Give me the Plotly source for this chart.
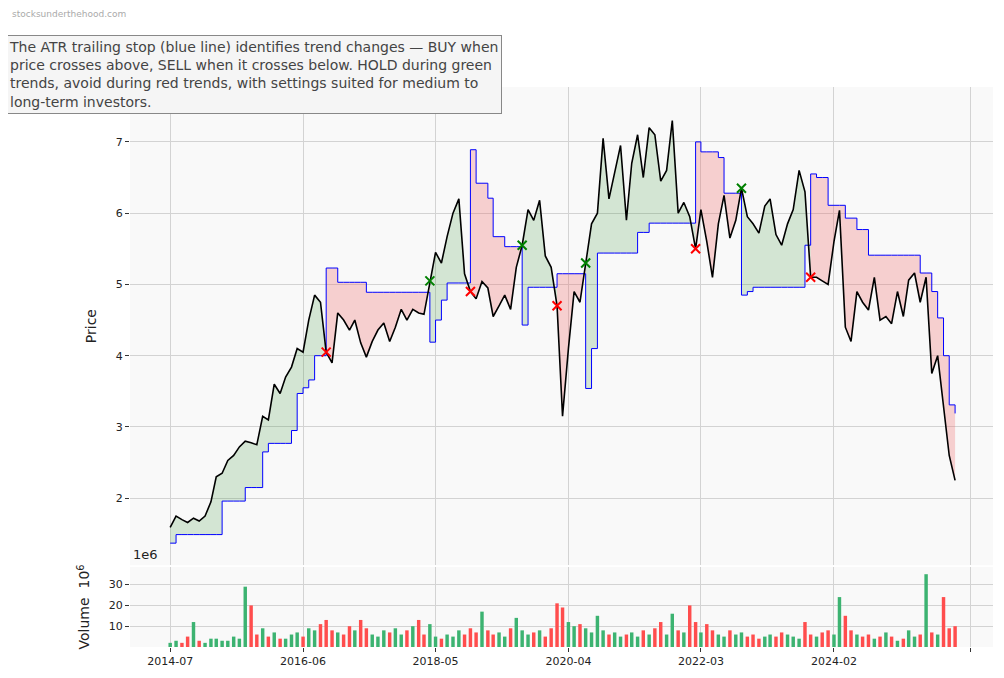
import pandas as pd
import plotly.graph_objects as go

# monthly closes, 2014-07 .. 2025-11
start = "2014-07-01"
price = [1.59, 1.75, 1.70, 1.66, 1.72, 1.68, 1.75, 1.95, 2.30, 2.35,
         2.53, 2.60, 2.72, 2.80, 2.78, 2.75, 3.15, 3.10, 3.60, 3.47,
         3.70, 3.84, 4.10, 4.05, 4.50, 4.85, 4.75, 4.05, 3.90, 4.60,
         4.50, 4.36, 4.50, 4.18, 3.98, 4.20, 4.36, 4.46, 4.20, 4.40,
         4.65, 4.50, 4.65, 4.60, 4.58, 5.05, 5.45, 5.30, 5.67, 6.00,
         6.20, 5.15, 4.90, 4.80, 5.04, 4.95, 4.55, 4.70, 4.85, 4.65,
         5.24, 5.55, 6.05, 5.90, 6.18, 5.40, 5.24, 4.70, 3.15, 4.10,
         4.90, 4.75, 5.30, 5.85, 6.00, 7.05, 6.20, 6.55, 6.95, 5.90,
         6.70, 7.10, 6.50, 7.20, 7.10, 6.45, 6.60, 7.30, 6.00, 6.15,
         5.95, 5.50, 6.05, 5.60, 5.10, 5.85, 6.25, 5.65, 5.90, 6.35,
         5.95, 5.85, 5.72, 6.10, 6.20, 5.70, 5.55, 5.85, 6.05, 6.60,
         6.30, 5.10, 5.10, 5.05, 5.00, 5.60, 6.04, 4.40, 4.20, 4.90,
         4.75, 4.64, 5.10, 4.50, 4.55, 4.45, 4.90, 4.55, 5.06, 5.16,
         4.75, 5.10, 3.75, 4.00, 3.30, 2.60, 2.25]

# ATR trailing stop
stop = [1.37, 1.49, 1.49, 1.49, 1.49, 1.49, 1.49, 1.49, 1.49, 1.96,
        1.96, 1.96, 1.96, 2.15, 2.15, 2.15, 2.65, 2.77, 2.77, 2.77,
        2.77, 2.95, 3.47, 3.55, 3.66, 4.00, 4.00, 5.23, 5.23, 5.03,
        5.03, 5.03, 5.03, 5.03, 4.89, 4.89, 4.89, 4.89, 4.89, 4.89,
        4.89, 4.89, 4.89, 4.89, 4.89, 4.19, 4.50, 4.78, 5.02, 5.02,
        5.02, 5.02, 6.89, 6.42, 6.42, 6.21, 5.67, 5.67, 5.53, 5.53,
        5.53, 4.43, 4.96, 4.96, 4.96, 4.96, 4.96, 5.15, 5.15, 5.15,
        5.15, 5.15, 3.54, 4.10, 5.44, 5.44, 5.44, 5.44, 5.44, 5.44,
        5.44, 5.73, 5.73, 5.86, 5.86, 5.86, 5.86, 5.86, 5.86, 5.86,
        5.86, 7.00, 6.86, 6.86, 6.86, 6.78, 6.28, 6.28, 6.28, 4.85,
        4.90, 4.96, 4.96, 4.96, 4.96, 4.96, 4.96, 4.96, 4.96, 4.96,
        5.55, 6.55, 6.50, 6.50, 6.11, 6.11, 6.11, 5.93, 5.93, 5.77,
        5.77, 5.41, 5.41, 5.41, 5.41, 5.41, 5.41, 5.41, 5.41, 5.41,
        5.16, 5.16, 4.90, 4.53, 4.00, 3.31, 3.19]

# volume in millions
volume = [2, 3, 2, 5, 12, 3, 2, 4, 4, 3,
          3, 5, 4, 29, 20, 6, 9, 5, 7, 4,
          4, 6, 7, 5, 9, 8, 11, 13, 8, 7,
          6, 10, 8, 13, 9, 6, 5, 8, 7, 9,
          6, 8, 10, 13, 6, 11, 5, 4, 6, 5,
          8, 6, 9, 7, 17, 8, 6, 7, 5, 9,
          14, 8, 6, 7, 8, 5, 9, 21, 19, 12,
          10, 11, 9, 7, 15, 8, 6, 7, 5, 6,
          7, 5, 8, 6, 9, 12, 6, 16, 8, 7,
          20, 12, 7, 11, 8, 6, 5, 8, 6, 7,
          5, 6, 4, 5, 6, 5, 7, 6, 5, 4,
          12, 6, 5, 7, 8, 6, 24, 15, 8, 6,
          5, 6, 4, 5, 7, 5, 3, 4, 8, 5,
          6, 35, 7, 6, 24, 9, 10]

dates = pd.date_range(start, periods=len(price), freq="MS")
df = pd.DataFrame({"date": dates, "price": price, "stop": stop, "volume": volume})
df["bull"] = df["price"] > df["stop"]

fig = go.Figure()

# shaded trend regions
runs = (df["bull"] != df["bull"].shift()).cumsum()
for _, seg in df.groupby(runs):
    i0, i1 = seg.index[0], min(seg.index[-1] + 1, len(df) - 1)
    part = df.loc[i0:i1]
    col = "rgba(60,150,60,0.2)" if seg["bull"].iloc[0] else "rgba(240,110,110,0.3)"
    fig.add_trace(go.Scatter(x=part["date"], y=part["stop"], mode="lines", line_shape="hv",
                             line=dict(width=0), showlegend=False, hoverinfo="skip"))
    fig.add_trace(go.Scatter(x=part["date"], y=part["price"], mode="lines",
                             line=dict(width=0), fill="tonexty", fillcolor=col,
                             showlegend=False, hoverinfo="skip"))

fig.add_trace(go.Scatter(x=df["date"], y=df["stop"], mode="lines", line_shape="hv",
                         line=dict(color="blue", width=1), name="ATR stop"))
fig.add_trace(go.Scatter(x=df["date"], y=df["price"], mode="lines",
                         line=dict(color="black", width=1.6), name="Price"))

# buy / sell crosses
flip = df["bull"] != df["bull"].shift()
flip.iloc[0] = False
buys = df[flip & df["bull"]]
sells = df[flip & ~df["bull"]]
fig.add_trace(go.Scatter(x=buys["date"], y=buys["price"], mode="markers",
                         marker=dict(symbol="x-thin", size=9, line=dict(width=2, color="green")),
                         name="BUY"))
fig.add_trace(go.Scatter(x=sells["date"], y=sells["price"], mode="markers",
                         marker=dict(symbol="x-thin", size=9, line=dict(width=2, color="red")),
                         name="SELL"))

# volume bars
up = df["price"].diff().fillna(0) >= 0
fig.add_trace(go.Bar(x=df["date"], y=df["volume"], yaxis="y2",
                     marker=dict(color=["#3cb371" if u else "#ff4d4d" for u in up], line_width=0),
                     showlegend=False))

tickvals = ["2014-07-01", "2016-06-01", "2018-05-01", "2020-04-01", "2022-03-01", "2024-02-01", "2026-01-20"]
ticktext = ["2014-07", "2016-06", "2018-05", "2020-04", "2022-03", "2024-02", ""]
grid = "#d3d3d3"

# page has an 8px body margin, so the figure is a bit smaller than the window
fig.update_layout(
    width=996, height=670,
    margin=dict(l=122, r=11, t=79, b=31, autoexpand=False),
    paper_bgcolor="white", plot_bgcolor="#f9f9f9",
    font=dict(family="DejaVu Sans", size=11, color="#222"),
    showlegend=False, bargap=0.35,
    xaxis=dict(range=["2013-12-01", "2026-05-20"], tickvals=tickvals, ticktext=ticktext,
               showgrid=True, gridcolor=grid, zeroline=False, ticks="outside",
               ticklen=4, tickcolor="#333", anchor="y2"),
    yaxis=dict(domain=[0.146, 1], range=[1.06, 7.77], dtick=1, gridcolor=grid,
               zeroline=False, ticks="outside", ticklen=4, tickcolor="#333",
               title=dict(text="Price", font=dict(size=14))),
    yaxis2=dict(domain=[0, 0.143], range=[0, 38.5], tickvals=[10, 20, 30], gridcolor=grid,
                zeroline=False, ticks="outside", ticklen=4, tickcolor="#333",
                title=dict(text="Volume  10<sup>6</sup>", font=dict(size=14))),
    annotations=[
        dict(xref="paper", yref="paper", x=-0.145, y=1.093, xanchor="left", yanchor="top",
             align="left", showarrow=False,
             text="The ATR trailing stop (blue line) identifies trend changes — BUY when<br>"
                  "price crosses above, SELL when it crosses below. HOLD during green<br>"
                  "trends, avoid during red trends, with settings suited for medium to<br>"
                  "long-term investors.",
             font=dict(size=14, color="#444"), bgcolor="#f5f5f5",
             bordercolor="#888", borderwidth=1, borderpad=3),
        dict(xref="paper", yref="paper", x=-0.139, y=1.13, xanchor="left", yanchor="middle",
             showarrow=False, text="stocksunderthehood.com", font=dict(size=9, color="#aaa")),
        dict(xref="paper", yref="paper", x=0.001, y=0.148, xanchor="left", yanchor="bottom",
             showarrow=False, text="1e6", font=dict(size=13, color="#222")),
    ],
)

fig.write_html("out.html")
